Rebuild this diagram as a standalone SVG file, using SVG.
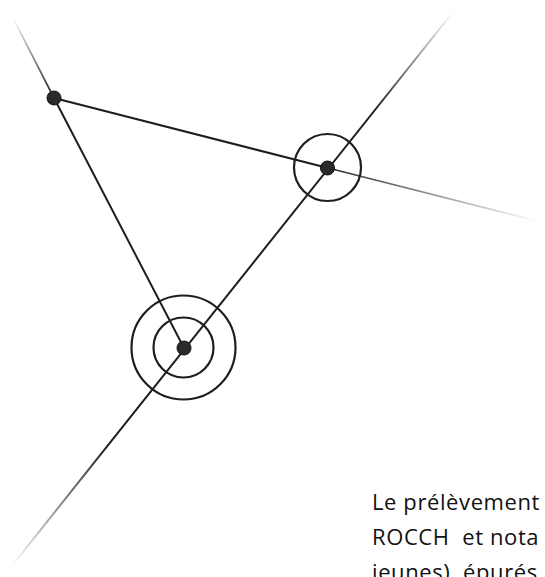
<svg xmlns="http://www.w3.org/2000/svg" width="545" height="577" viewBox="0 0 545 577">
<style>
.ln{stroke-width:2;fill:none;stroke-linecap:round}
.solid{stroke:#1e1e1e}
.ring{stroke:#1e1e1e;stroke-width:2.2;fill:none}
.dot{fill:#2a2a2a;stroke:#111;stroke-width:1}
.txt{font-family:"Open Sans","Liberation Sans",sans-serif;font-size:22px;fill:#111;white-space:pre;letter-spacing:0.6px}
</style>
<defs>
<linearGradient id="gA" gradientUnits="userSpaceOnUse" x1="11" y1="567" x2="453" y2="12">
<stop offset="0" stop-color="#1e1e1e" stop-opacity="0"/>
<stop offset="0.22" stop-color="#1e1e1e" stop-opacity="1"/>
<stop offset="0.82" stop-color="#1e1e1e" stop-opacity="1"/>
<stop offset="1" stop-color="#1e1e1e" stop-opacity="0"/>
</linearGradient>
<linearGradient id="gB" gradientUnits="userSpaceOnUse" x1="328" y1="168" x2="537" y2="221">
<stop offset="0" stop-color="#1e1e1e" stop-opacity="0.95"/>
<stop offset="1" stop-color="#1e1e1e" stop-opacity="0"/>
</linearGradient>
<linearGradient id="gC" gradientUnits="userSpaceOnUse" x1="54" y1="98" x2="13" y2="18">
<stop offset="0" stop-color="#1e1e1e" stop-opacity="1"/>
<stop offset="1" stop-color="#1e1e1e" stop-opacity="0"/>
</linearGradient>
</defs>
<g id="connectors">
<line class="ln" x1="11" y1="567" x2="453" y2="12" style="stroke:url(#gA)"/>
<line class="ln solid" x1="54" y1="98" x2="328" y2="168"/>
<line class="ln" x1="328" y1="168" x2="537" y2="221" style="stroke:url(#gB);stroke-width:1.7"/>
<line class="ln solid" x1="54" y1="98" x2="184" y2="348"/>
<line class="ln" x1="54" y1="98" x2="13" y2="18" style="stroke:url(#gC);stroke-width:1.7"/>
</g>
<g id="node-top-left">
<circle class="dot" cx="54" cy="98" r="7"/>
</g>
<g id="node-right">
<circle class="ring" cx="327.5" cy="167.5" r="33.5"/>
<circle class="dot" cx="327.5" cy="168" r="7"/>
</g>
<g id="node-bottom">
<circle class="ring" cx="183.5" cy="347.5" r="30"/>
<circle class="ring" cx="183.5" cy="347.5" r="52"/>
<circle class="dot" cx="184" cy="348" r="7"/>
</g>
<g id="caption">
<text class="txt" x="372" y="510">Le prélèvement</text>
<text class="txt" x="372" y="545">ROCCH  et nota</text>
<text class="txt" x="372" y="580">jeunes)  épurés</text>
</g>
</svg>
